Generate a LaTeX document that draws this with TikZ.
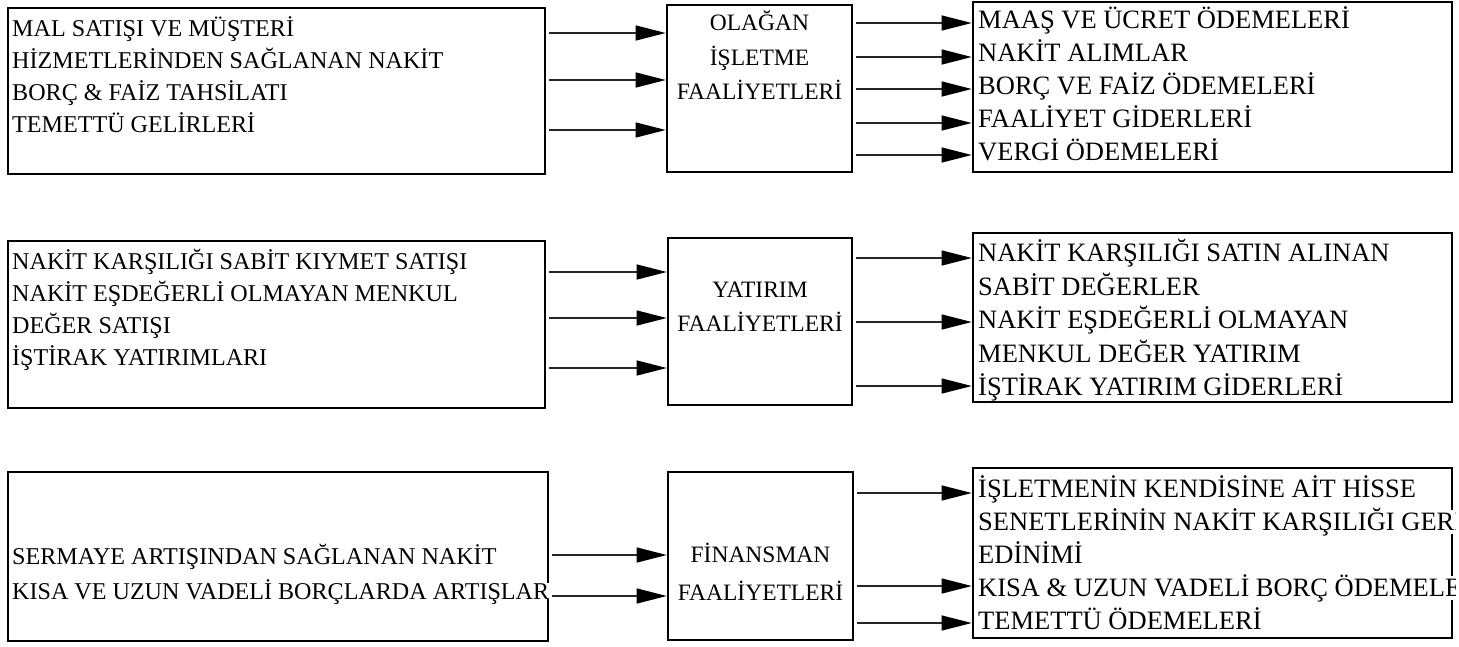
\documentclass[tikz,border=0pt]{standalone}
\usepackage{fontspec}
\setmainfont{Liberation Serif}
\usetikzlibrary{arrows.meta}

\tikzset{
  box/.style={draw, line width=2.6pt, inner sep=0pt},
  flow/.style={line width=1.2pt, black!85, shorten <=3pt, -{Triangle[length=30pt,width=15pt,color=black]}},
  lefttxt/.style={inner sep=0pt, anchor=west, text height=16pt, text depth=0pt, font=\fontsize{24.1}{28}\selectfont},
  midtxt/.style={inner sep=0pt, text height=15.6pt, text depth=0pt, font=\fontsize{23.5}{28}\selectfont},
  righttxt/.style={inner sep=0pt, anchor=west, text height=17.5pt, text depth=0pt, font=\fontsize{26.5}{32}\selectfont},
}

\begin{document}
\begin{tikzpicture}[x=1pt, y=-1pt]
  \useasboundingbox (0,0) rectangle (1459,646);

  % Olağan işletme faaliyetleri
  \node[box, minimum width=537pt, minimum height=166pt] (L1) at (276.5,91) {};
  \foreach \t [count=\i from 0] in {MAL SATIŞI VE MÜŞTERİ, HİZMETLERİNDEN SAĞLANAN NAKİT, BORÇ \& FAİZ TAHSİLATI, TEMETTÜ GELİRLERİ}
    \node[lefttxt] (L1-\i) at (12,{28+32*\i}) {\t};
  \node[box, minimum width=185pt, minimum height=167pt] (M1) at (759.5,88.5) {};
  \node[midtxt] (M1-0) at (759.5,23) {OLAĞAN};
  \node[midtxt] (M1-1) at (759.5,58) {İŞLETME};
  \node[midtxt] (M1-2) at (759.5,92) {FAALİYETLERİ};
  \node[box, minimum width=479pt, minimum height=170pt] (R1) at (1212.5,87) {};
  \foreach \t [count=\i from 0] in {MAAŞ VE ÜCRET ÖDEMELERİ, NAKİT ALIMLAR, BORÇ VE FAİZ ÖDEMELERİ, FAALİYET GİDERLERİ, VERGİ ÖDEMELERİ}
    \node[righttxt] (R1-\i) at (978,{20+33*\i}) {\t};

  \foreach \y in {33,80,130}
    \draw[flow] (L1.east |- 0,\y) -- (M1.west |- 0,\y);
  \foreach \y in {23,57,89,123,155}
    \draw[flow] (M1.east |- 0,\y) -- (R1.west |- 0,\y);

  % Yatırım faaliyetleri
  \node[box, minimum width=537pt, minimum height=167pt] (L2) at (276.5,324.5) {};
  \foreach \t [count=\i from 0] in {NAKİT KARŞILIĞI SABİT KIYMET SATIŞI, NAKİT EŞDEĞERLİ OLMAYAN MENKUL, DEĞER SATIŞI, İŞTİRAK YATIRIMLARI}
    \node[lefttxt] (L2-\i) at (12,{261+32*\i}) {\t};
  \node[box, minimum width=184pt, minimum height=167pt] (M2) at (760,321.5) {};
  \node[midtxt] (M2-0) at (760,290) {YATIRIM};
  \node[midtxt] (M2-1) at (760,324) {FAALİYETLERİ};
  \node[box, minimum width=479pt, minimum height=169pt] (R2) at (1212.5,317.5) {};
  \foreach \t [count=\i from 0] in {NAKİT KARŞILIĞI SATIN ALINAN, SABİT DEĞERLER, NAKİT EŞDEĞERLİ OLMAYAN, MENKUL DEĞER YATIRIM, İŞTİRAK YATIRIM GİDERLERİ}
    \node[righttxt] (R2-\i) at (978,{253+33.5*\i}) {\t};

  \foreach \y in {272,318,368}
    \draw[flow] (L2.east |- 0,\y) -- (M2.west |- 0,\y);
  \foreach \y in {258,322,386}
    \draw[flow] (M2.east |- 0,\y) -- (R2.west |- 0,\y);

  % Finansman faaliyetleri
  \node[box, minimum width=540pt, minimum height=169pt] (L3) at (278,556.5) {};
  \node[lefttxt] (L3-0) at (12,556) {SERMAYE ARTIŞINDAN SAĞLANAN NAKİT};
  \node[lefttxt, fill=white, inner xsep=2pt] (L3-1) at (10,591) {KISA VE UZUN VADELİ BORÇLARDA ARTIŞLAR};
  \node[box, minimum width=185pt, minimum height=168pt] (M3) at (760.5,556) {};
  \node[midtxt] (M3-0) at (760.5,555) {FİNANSMAN};
  \node[midtxt] (M3-1) at (760.5,593) {FAALİYETLERİ};
  \node[box, minimum width=479pt, minimum height=170pt] (R3) at (1212.5,553) {};
  \begin{scope}
    \clip (973,466) rectangle (1455,640);
    \foreach \t [count=\i from 0] in {İŞLETMENİN KENDİSİNE AİT HİSSE, SENETLERİNİN NAKİT KARŞILIĞI GERİ, EDİNİMİ, KISA \& UZUN VADELİ BORÇ ÖDEMELERİ, TEMETTÜ ÖDEMELERİ}
      \node[righttxt, fill=white, inner ysep=3pt] (R3-\i) at (978,{489+33*\i}) {\t};
  \end{scope}

  \foreach \y in {555,596}
    \draw[flow] (L3.east |- 0,\y) -- (M3.west |- 0,\y);
  \foreach \y in {493,586,623}
    \draw[flow] (M3.east |- 0,\y) -- (R3.west |- 0,\y);
\end{tikzpicture}
\end{document}
